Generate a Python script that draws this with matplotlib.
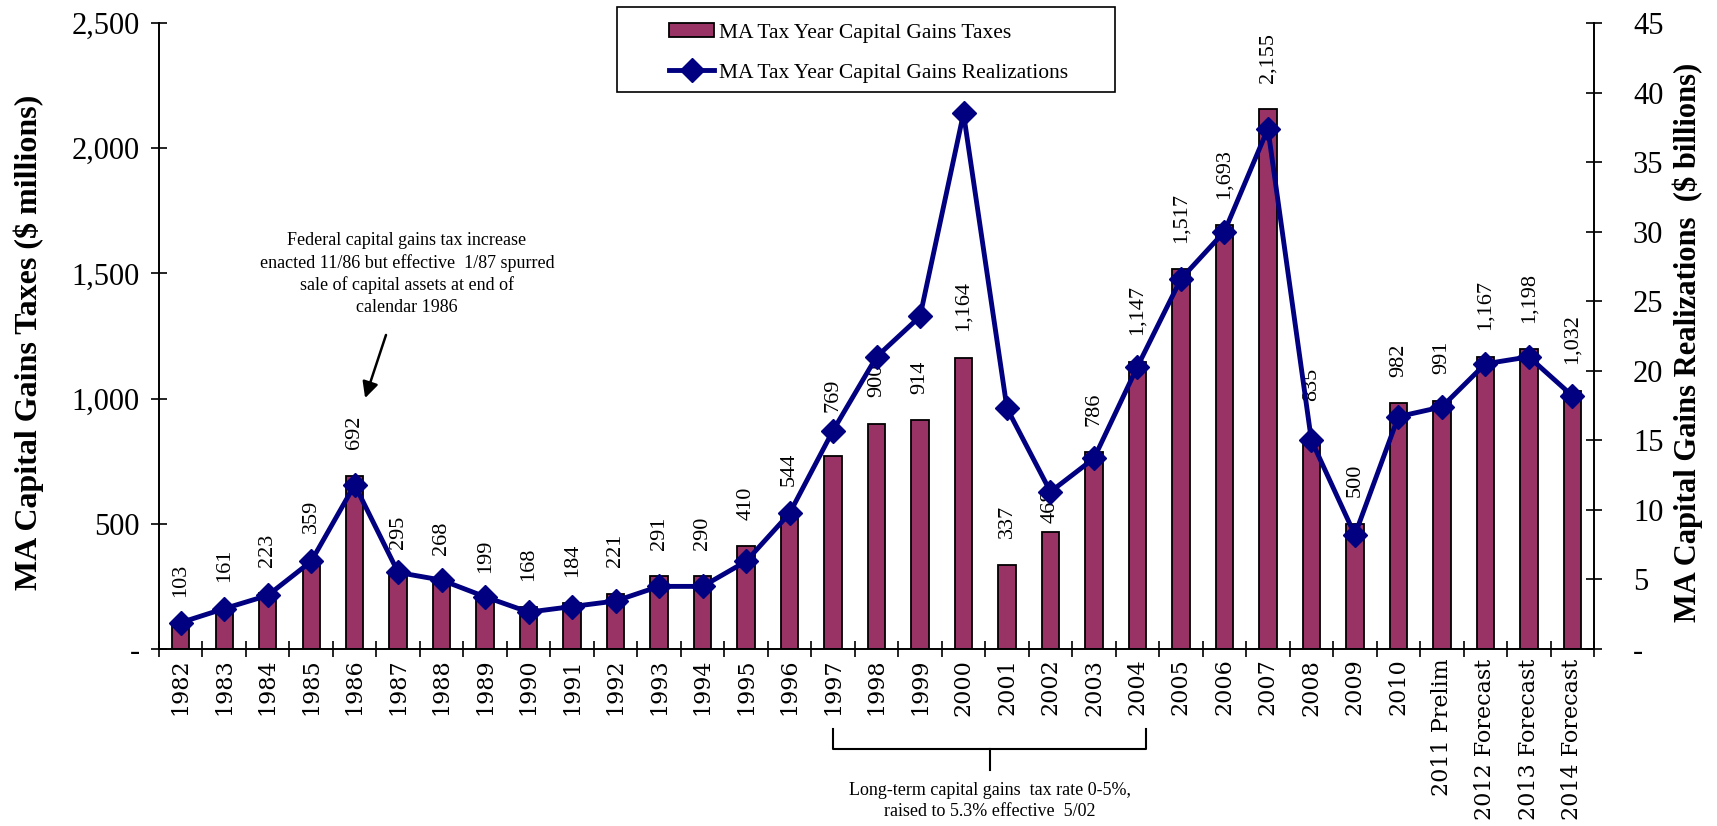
import matplotlib
matplotlib.use("Agg")
import matplotlib.pyplot as plt
import matplotlib.transforms as mtransforms
from matplotlib.patches import Rectangle
import numpy as np

######################################## data
years = [str(y) for y in range(1982, 2011)] + ["2011 Prelim", "2012 Forecast",
                                                "2013 Forecast", "2014 Forecast"]
taxes = [103, 161, 223, 359, 692, 295, 268, 199, 168, 184, 221, 291, 290, 410,
         544, 769, 900, 914, 1164, 337, 468, 786, 1147, 1517, 1693, 2155, 835,
         500, 982, 991, 1167, 1198, 1032]  # $ millions
realizations = [1.9, 2.9, 3.85, 6.3, 11.8, 5.5, 4.95, 3.75, 2.65, 3.05, 3.45,
                4.5, 4.5, 6.3, 9.75, 15.7, 21.0, 23.9, 38.5, 17.3, 11.3, 13.7,
                20.3, 26.6, 30.0, 37.4, 15.0, 8.2, 16.7, 17.4, 20.5, 21.0, 18.2]  # $ billions

left_ticks = [0, 500, 1000, 1500, 2000, 2500]
right_ticks = [0, 5, 10, 15, 20, 25, 30, 35, 40, 45]

######################################## style
serif = "Liberation Serif"
bar_colour = "#993366"
line_colour = "#000080"
label_gap = 19  # points between bar top and its value label
label_gap_special = {"1997": 32, "2002": 6, "2008": 28}  # labels moved off the line

plt.rcParams["font.family"] = [serif, "DejaVu Serif"]

fig = plt.figure(figsize=(17.17, 8.26), dpi=100)
ax = fig.add_axes([0.0926, 0.2143, 0.8358, 0.7579])
ax2 = ax.twinx()

x = np.arange(len(years))

ax.bar(x, taxes, width=0.4, color=bar_colour, edgecolor="black", linewidth=1.3,
       label="MA Tax Year Capital Gains Taxes")
for xi, yr, v in zip(x, years, taxes):
    gap = label_gap_special.get(yr, label_gap)
    ax.annotate("{:,}".format(v), (xi, v), xytext=(0, gap), textcoords="offset points",
                rotation=90, ha="center", va="bottom", fontsize=16)

ax2.plot(x, realizations, color=line_colour, linewidth=3.5, marker="D",
         markersize=12, label="MA Tax Year Capital Gains Realizations")

######################################## axes
ax.set_xlim(-0.5, len(years) - 0.5)
ax.set_ylim(0, 2500)
ax2.set_ylim(0, 45)

ax.set_xticks(x)
ax.set_xticklabels(years, rotation=90, fontsize=16, family="DejaVu Serif")
ax.set_xticks(np.arange(-0.5, len(years), 1), minor=True)
ax.tick_params(axis="x", which="major", length=0, pad=7)
ax.tick_params(axis="x", which="minor", length=12, direction="inout", width=1.2)

ax.set_yticks(left_ticks)
ax.set_yticklabels(["-" if t == 0 else "{:,}".format(t) for t in left_ticks], fontsize=22)
ax.tick_params(axis="y", direction="inout", length=12, width=1.2, pad=8)

ax2.set_yticks(right_ticks)
ax2.set_yticklabels(["-" if t == 0 else str(t) for t in right_ticks], fontsize=22)
ax2.tick_params(axis="y", direction="inout", length=12, width=1.2, pad=22)

for a in (ax, ax2):
    a.spines["top"].set_visible(False)
    for s in ("left", "right", "bottom"):
        a.spines[s].set_linewidth(1.2)

ax.set_ylabel("MA Capital Gains Taxes ($ millions)", fontsize=23, fontweight="bold")
ax.yaxis.label.set(ha="center", va="center")
ax.yaxis.set_label_coords(-0.091, 0.49)
ax2.set_ylabel("MA Capital Gains Realizations  ($ billions)", fontsize=22,
               fontweight="bold", rotation=90)
ax2.yaxis.label.set(ha="center", va="center")
ax2.yaxis.set_label_coords(1.0655, 0.49)

######################################## legend in a plain box
h1, l1 = ax.get_legend_handles_labels()
h2, l2 = ax2.get_legend_handles_labels()
leg = fig.legend(h1 + h2, l1 + l2, loc="center", bbox_to_anchor=(0.5058, 0.936),
                 frameon=False, fontsize=15.5, handlelength=2.1, handleheight=0.6,
                 handletextpad=0.2, labelspacing=0.95)
leg.set_zorder(6)
fig.add_artist(Rectangle((0.3593, 0.8886), 0.29, 0.1029, transform=fig.transFigure,
                         facecolor="white", edgecolor="black", linewidth=1.2, zorder=5))

######################################## annotations
ax.text(5.2, 1498, "Federal capital gains tax increase\nenacted 11/86 but effective  1/87 spurred\n"
        "sale of capital assets at end of\ncalendar 1986",
        ha="center", va="center", fontsize=13, linespacing=1.35)
ax.annotate("", xy=(4.24, 1002), xytext=(4.72, 1254),
            arrowprops=dict(arrowstyle="-|>", color="black", lw=1.8,
                            mutation_scale=24, shrinkA=0, shrinkB=0))

trans = mtransforms.blended_transform_factory(ax.transData, ax.transAxes)
b_left, b_right = 15.0, 22.2
b_mid = (b_left + b_right) / 2
ax.plot([b_left, b_left, b_right, b_right], [-0.128, -0.160, -0.160, -0.128],
        color="black", lw=1.5, transform=trans, clip_on=False)
ax.plot([b_mid, b_mid], [-0.160, -0.193], color="black", lw=1.5,
        transform=trans, clip_on=False)
ax.text(b_mid, -0.243, "Long-term capital gains  tax rate 0-5%,\nraised to 5.3% effective  5/02",
        transform=trans, ha="center", va="center", fontsize=13, linespacing=1.35)

plt.savefig("out.png", dpi=100)
